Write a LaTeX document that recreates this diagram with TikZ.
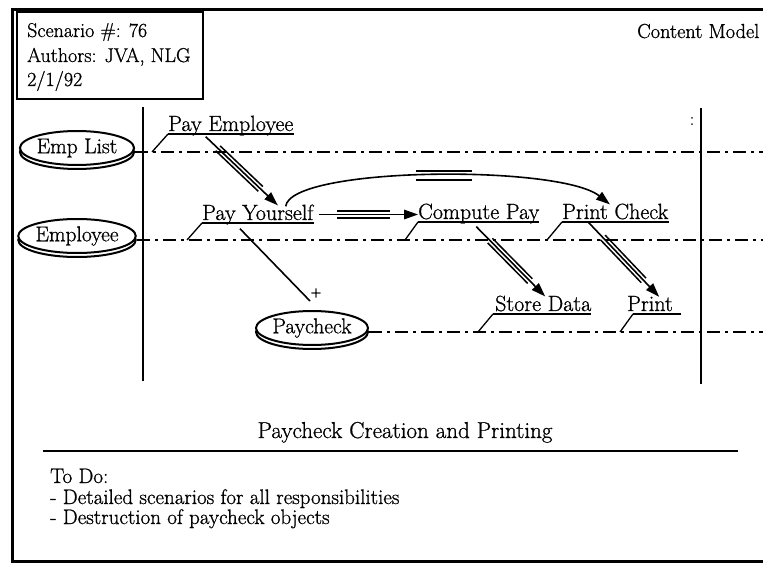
\documentclass[tikz,border=0pt]{standalone}
\usepackage{fontspec}
\setmainfont{Latin Modern Roman}[FakeBold=0.9]
\usetikzlibrary{arrows.meta,shapes.geometric,shadows,calc}

\tikzset{
  frameline/.style={line width=3pt, line join=miter},
  infobox/.style={line width=2pt},
  lifeline/.style={line width=2pt},
  objdisc/.style={ellipse, draw, fill=white, line width=2pt, inner sep=0pt,
    minimum width=108pt, minimum height=34pt, font=\fontsize{21.5}{24}\selectfont,
    general shadow={shadow yshift=-4pt, fill=white, draw=black, line width=2pt}},
  lane/.style={line width=1.7pt, dash pattern=on 13pt off 5pt on 3pt off 5pt},
  oplabel/.style={anchor=base west, inner sep=0pt, font=\fontsize{22}{24}\selectfont},
  plaintext/.style={anchor=base west, inner sep=0pt, font=\fontsize{20}{24}\selectfont},
  uline/.style={line width=1.3pt},
  msg/.style={line width=1.6pt, -{Triangle[length=14pt,width=9.5pt]}},
  bar/.style={line width=1.5pt},
}

% message arrow with a triple-bar segment in its middle
% #1 start, #2 end, #3/#4 start and end fraction of the bars
\newcommand\triplemsg[4]{%
  \draw[msg] (#1) -- (#2);
  \draw[bar] ($(#1)!#3!(#2)!3.3pt!90:(#2)$) -- ($(#1)!#4!(#2)!3.3pt!90:(#2)$);
  \draw[bar] ($(#1)!#3!(#2)!3.3pt!-90:(#2)$) -- ($(#1)!#4!(#2)!3.3pt!-90:(#2)$);
}

\begin{document}
\begin{tikzpicture}[x=1pt,y=-1pt]
\useasboundingbox (0,0) rectangle (763,569);

% outer frame (open to the right)
\draw[frameline] (775,10) -- (12,10) -- (12,561) -- (775,561);

% header box
\draw[infobox] (17,12) rectangle (203,99);
\node[plaintext] (hd1) at (27,37) {Scenario \#: 76};
\node[plaintext] (hd2) at (27,62) {Authors: JVA, NLG};
\node[plaintext] (hd3) at (27,86) {2/1/92};
\node[plaintext, font=\fontsize{20.3}{24}\selectfont] (model) at (637,38) {Content Model};

% lifelines
\coordinate (ll1top) at (143,107);
\coordinate (ll1bot) at (143,381);
\coordinate (ll2top) at (701,108);
\coordinate (ll2bot) at (701,384);
\draw[lifeline] (ll1top) -- (ll1bot);
\draw[line width=2.4pt] (ll2top) -- (ll2bot);
\node[inner sep=0pt, font=\fontsize{18}{18}\selectfont] (cont) at (692,121) {:};

% objects
\node[objdisc] (emplist) at (77,148) {Emp List};
\node[objdisc] (employee) at (77,236) {Employee};
\node[objdisc] (paycheck) at (312,328) {Paycheck};

% object lanes
\coordinate (lane1end) at (775,152);
\coordinate (lane2end) at (775,240);
\coordinate (lane3end) at (775,332);
\draw[lane] ([yshift=-4pt]emplist.east) -- (lane1end);
\draw[lane] ([yshift=-4pt]employee.east) -- (lane2end);
\draw[lane] ([yshift=-4pt]paycheck.east) -- (lane3end);

% operations
\node[oplabel] (pe) at (168,131) {Pay Employee};
\node[oplabel] (py) at (202,220) {Pay Yourself};
\node[oplabel] (cp) at (418,219) {Compute Pay};
\node[oplabel] (pc) at (562,219) {Print Check};
\node[oplabel] (sd) at (495,311) {Store Data};
\node[oplabel] (pr) at (627,311) {Print};

% underlines
\draw[uline] ([yshift=-3pt]pe.base west) -- ([yshift=-3pt]pe.base east);
\draw[uline] ([yshift=-3pt]py.base west) -- ([yshift=-3pt]py.base east);
\draw[uline] ([yshift=-3pt]cp.base west) -- ([yshift=-3pt]cp.base east);
\draw[uline] ([yshift=-3pt]pc.base west) -- ([yshift=-3pt]pc.base east);
\draw[uline] ([xshift=-2pt,yshift=-3pt]sd.base west) -- ([yshift=-3pt]sd.base east);
\draw[uline] ([xshift=6pt,yshift=-3pt]pr.base west) -- ([xshift=8pt,yshift=-3pt]pr.base east);

% ticks from the lanes to the operations
\coordinate (k1) at (152,152);
\coordinate (k2) at (187,240);
\coordinate (k3) at (405,240);
\coordinate (k4) at (547,240);
\coordinate (k5) at (478,332);
\coordinate (k6) at (620,332);
\draw[uline] (k1) -- ([yshift=-3pt]pe.base west);
\draw[uline] (k2) -- ([yshift=-3pt]py.base west);
\draw[uline] (k3) -- ([yshift=-3pt]cp.base west);
\draw[uline] (k4) -- ([yshift=-3pt]pc.base west);
\draw[uline] (k5) -- ([xshift=-2pt,yshift=-3pt]sd.base west);
\draw[uline] (k6) -- ([xshift=6pt,yshift=-3pt]pr.base west);

% message end points
\coordinate (a1s) at ([yshift=-1pt]$(pe.south west)!0.3!(pe.south east)$);
\coordinate (a1e) at ([yshift=-1pt]$(py.north west)!0.68!(py.north east)$);
\coordinate (a2s) at ([xshift=5pt]py.east);
\coordinate (a2e) at (cp.west |- a2s);
\coordinate (a3s) at ([yshift=-2pt]$(py.north west)!0.75!(py.north east)$);
\coordinate (a3e) at ([yshift=-1pt]$(pc.north west)!0.45!(pc.north east)$);
\coordinate (a4s) at ([yshift=-3pt]$(cp.south west)!0.48!(cp.south east)$);
\coordinate (a4e) at ([yshift=-1pt]$(sd.north west)!0.52!(sd.north east)$);
\coordinate (a5s) at ([yshift=-3pt]$(pc.south west)!0.25!(pc.south east)$);
\coordinate (a5e) at ([yshift=-1pt]$(pr.north west)!0.7!(pr.north east)$);
\coordinate (a6s) at ([yshift=-4pt]$(py.south west)!0.34!(py.south east)$);
\coordinate (a6e) at ([xshift=-2pt,yshift=9pt]paycheck.north);

% messages
\triplemsg{a1s}{a1e}{0.17}{0.76}
\triplemsg{a2s}{a2e}{0.19}{0.72}
\triplemsg{a4s}{a4e}{0.2}{0.78}
\triplemsg{a5s}{a5e}{0.2}{0.78}
\draw[msg] (a3s) .. controls +(5,-40) and +(-50,-40) .. coordinate[pos=0.53] (a3m) (a3e);
\draw[bar] ([shift={(-28,-4.5)}]a3m) -- ++(56,0);
\draw[bar] ([shift={(-28,4.5)}]a3m) -- ++(56,0);

% creation of the paycheck
\draw[line width=1.6pt] (a6s) -- (a6e);
\node[inner sep=0pt, font=\fontsize{15}{15}\selectfont] (plus) at ([xshift=6pt,yshift=8pt]a6e) {+};

% caption and notes
\node[anchor=base, inner sep=0pt, font=\fontsize{23}{26}\selectfont] (title) at (405,438) {Paycheck Creation and Printing};
\coordinate (rulel) at (43,451);
\coordinate (ruler) at (738,451);
\draw[line width=2pt] (rulel) -- (ruler);
\node[plaintext, font=\fontsize{21}{24}\selectfont] (todo) at (50,483) {To Do:};
\node[plaintext, font=\fontsize{21}{24}\selectfont] (todo1) at (50,504) {- Detailed scenarios for all responsibilities};
\node[plaintext, font=\fontsize{21}{24}\selectfont] (todo2) at (50,524) {- Destruction of paycheck objects};
\end{tikzpicture}
\end{document}
